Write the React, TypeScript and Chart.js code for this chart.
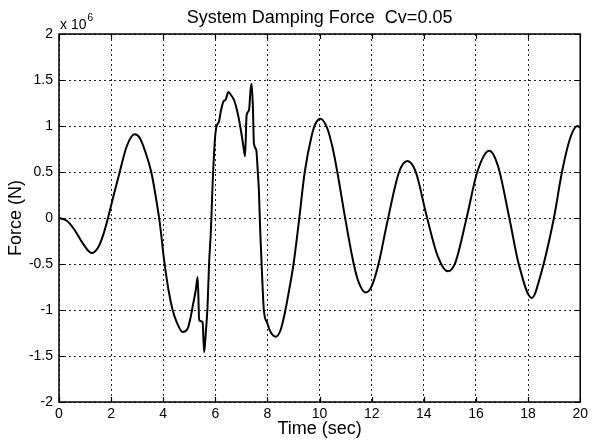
import React, { useEffect, useRef } from "react";
import { Chart, registerables } from "chart.js";

Chart.register(...registerables);

// Time samples (s) and damping force (x 10^6 N)
const timeSec: number[] = [
  0.0, 0.3, 0.6, 0.9, 1.25, 1.5, 1.7, 1.88, 2.1, 2.33, 2.6, 2.9, 3.1, 3.3, 3.54, 3.72, 3.88,
  4.03, 4.2, 4.36, 4.5, 4.75, 4.94, 5.05, 5.13, 5.25, 5.32, 5.38, 5.51, 5.57, 5.64, 5.7,
  5.76, 5.83, 5.89, 5.99, 6.04, 6.14, 6.21, 6.3, 6.4, 6.5, 6.59, 6.72, 6.84, 6.97, 7.06,
  7.14, 7.2, 7.29, 7.35, 7.39, 7.44, 7.48, 7.57, 7.63, 7.67, 7.72, 7.8, 7.86, 7.99, 8.12,
  8.31, 8.5, 8.66, 8.82, 9.0, 9.2, 9.43, 9.7, 9.85, 10.03, 10.3, 10.5, 10.68, 10.98,
  11.31, 11.5, 11.77, 12.0, 12.26, 12.6, 13.05, 13.37, 13.69, 14.1, 14.54, 14.92, 15.2,
  15.64, 16.05, 16.51, 16.85, 17.28, 17.64, 18.14, 18.5, 18.99, 19.3, 19.63, 19.89, 20.0,
];
const forceMN: number[] = [
  0.0, -0.03, -0.13, -0.27, -0.38, -0.32, -0.18, 0.0, 0.25, 0.5, 0.78, 0.91, 0.87, 0.73, 0.5, 0.22, -0.08,
  -0.45, -0.78, -1.0, -1.12, -1.24, -1.2, -1.08, -0.96, -0.78, -0.64, -1.11, -1.13, -1.46, -1.22, -0.96,
  -0.49, -0.13, 0.34, 0.88, 0.99, 1.05, 1.16, 1.26, 1.29, 1.37, 1.34, 1.28, 1.16, 0.97, 0.81,
  0.67, 1.12, 1.17, 1.39, 1.46, 1.21, 0.81, 0.74, 0.49, 0.3, -0.13, -0.67, -1.0, -1.14, -1.24,
  -1.29, -1.22, -1.04, -0.8, -0.5, -0.05, 0.5, 0.9, 1.03, 1.08, 0.97, 0.76, 0.5, 0.0,
  -0.5, -0.7, -0.81, -0.74, -0.5, -0.04, 0.5, 0.62, 0.5, 0.03, -0.42, -0.58, -0.49,
  0.0, 0.5, 0.73, 0.56, 0.0, -0.5, -0.87, -0.6, 0.0, 0.5, 0.88, 1.0, 0.98,
];

const xTickLabels: string[] = ["0", "2", "4", "6", "8", "10", "12", "14", "16", "18", "20"];
const yTickLabels: string[] = ["-2", "-1.5", "-1", "-0.5", "0", "0.5", "1", "1.5", "2"];

const titleText = "System Damping Force  Cv=0.05";
const FONT = "'Liberation Sans', Arial, Helvetica, sans-serif";

// Box frame, inward tick marks, title and exponent label, drawn MATLAB-style
const matlabAxes = {
  id: "matlabAxes",
  afterDraw(chart: any) {
    const { ctx, chartArea: a, scales } = chart;
    const xs = scales.x;
    const ys = scales.y;
    ctx.save();
    ctx.strokeStyle = "#000";
    ctx.lineWidth = 1.5;
    ctx.strokeRect(a.left, a.top, a.right - a.left, a.bottom - a.top);

    const L = 5;
    ctx.lineWidth = 1.2;
    ctx.beginPath();
    xs.ticks.forEach((_: any, i: number) => {
      const px = Math.round(xs.getPixelForTick(i)) + 0.5;
      ctx.moveTo(px, a.bottom);
      ctx.lineTo(px, a.bottom - L);
      ctx.moveTo(px, a.top);
      ctx.lineTo(px, a.top + L);
    });
    ys.ticks.forEach((_: any, i: number) => {
      const py = Math.round(ys.getPixelForTick(i)) + 0.5;
      ctx.moveTo(a.left, py);
      ctx.lineTo(a.left + L, py);
      ctx.moveTo(a.right, py);
      ctx.lineTo(a.right - L, py);
    });
    ctx.stroke();

    ctx.fillStyle = "#000";
    ctx.font = `18px ${FONT}`;
    ctx.textAlign = "center";
    ctx.textBaseline = "alphabetic";
    ctx.fillText(titleText, (a.left + a.right) / 2, 23);

    ctx.textAlign = "left";
    ctx.font = `14px ${FONT}`;
    const base = "x 10";
    ctx.fillText(base, a.left + 1, a.top - 5);
    const w = ctx.measureText(base).width;
    ctx.font = `10px ${FONT}`;
    ctx.fillText("6", a.left + 2 + w, a.top - 13);
    ctx.restore();
  },
};

export default function App() {
  const canvasRef = useRef<HTMLCanvasElement | null>(null);

  useEffect(() => {
    document.body.style.margin = "0";
    const canvas = canvasRef.current;
    if (!canvas) return;
    const points = timeSec.map((t, i) => ({ x: t, y: forceMN[i] }));
    const gridStyle = {
      color: "#222",
      lineWidth: 1,
      drawTicks: false,
    };
    const borderStyle = { display: false, dash: [2, 3] };
    const chart = new Chart(canvas, {
      type: "line",
      data: {
        datasets: [
          {
            data: points,
            borderColor: "#000",
            borderWidth: 2,
            pointRadius: 0,
            fill: false,
            cubicInterpolationMode: "monotone",
          },
        ],
      },
      options: {
        responsive: false,
        animation: false,
        devicePixelRatio: 1,
        layout: { padding: { top: 34, right: 9, left: 0, bottom: 0 } },
        plugins: { legend: { display: false }, tooltip: { enabled: false }, title: { display: false } },
        scales: {
          x: {
            type: "linear",
            min: 0,
            max: 20,
            afterBuildTicks: (s: any) => {
              s.ticks = xTickLabels.map((l) => ({ value: Number(l) }));
            },
            afterFit: (s: any) => {
              s.height = 39;
            },
            ticks: {
              color: "#000",
              font: { family: FONT, size: 14 },
              padding: 4,
              maxRotation: 0,
              autoSkip: false,
              callback: (_v: any, i: number) => xTickLabels[i],
            },
            grid: gridStyle,
            border: borderStyle,
            title: {
              display: true,
              text: "Time (sec)",
              color: "#000",
              font: { family: FONT, size: 18 },
              padding: { top: 0, bottom: 1 },
            },
          },
          y: {
            type: "linear",
            min: -2,
            max: 2,
            afterBuildTicks: (s: any) => {
              s.ticks = yTickLabels.map((l) => ({ value: Number(l) }));
            },
            afterFit: (s: any) => {
              s.width = 59;
            },
            ticks: {
              color: "#000",
              font: { family: FONT, size: 14 },
              padding: 6,
              autoSkip: false,
              callback: (_v: any, i: number) => yTickLabels[i],
            },
            grid: gridStyle,
            border: borderStyle,
            title: {
              display: true,
              text: "Force (N)",
              color: "#000",
              font: { family: FONT, size: 18 },
              padding: { top: 5, bottom: 0 },
            },
          },
        },
      },
      plugins: [
        {
          id: "whiteBg",
          beforeDraw(c: any) {
            const g = c.ctx;
            g.save();
            g.fillStyle = "#fff";
            g.fillRect(0, 0, c.width, c.height);
            g.restore();
          },
        },
        matlabAxes,
      ],
    } as any);
    return () => chart.destroy();
  }, []);

  return (
    <div style={{ position: "absolute", left: 0, top: 0, width: 592, height: 441, background: "#fff" }}>
      <canvas ref={canvasRef} width={592} height={441} style={{ display: "block" }} />
    </div>
  );
}
